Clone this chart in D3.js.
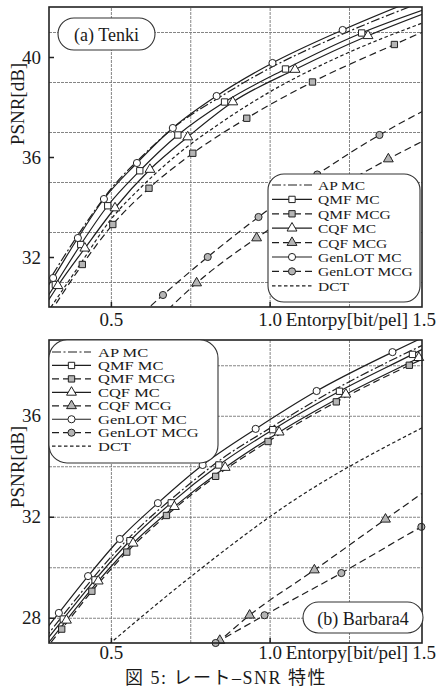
<!DOCTYPE html>
<html>
<head>
<meta charset="utf-8">
<script src="https://d3js.org/d3.v7.min.js"></script>
<style>
  body { margin: 0; background: #fff; }
  text { font-family: "Liberation Serif", "Noto Sans CJK JP", serif; fill: #1a1a1a; }
</style>
</head>
<body>
<script>
// ---- data ----
var seriesNames = ["AP MC", "QMF MC", "QMF MCG", "CQF MC", "CQF MCG", "GenLOT MC", "GenLOT MCG", "DCT"];
var xTickValues = [0.5, 1.0, 1.5];
var tenkiYTicks = [32, 36, 40];
var barbYTicks = [28, 32, 36];

// (a) Tenki : [entropy bit/pel, PSNR dB]
var tenkiAPMC      = [[0.29,30.75],[0.4,32.95],[0.5,34.72],[0.6,36.05],[0.7,37.2],[0.85,38.45],[1.0,39.55],[1.2,40.75],[1.5,42.3]];
var tenkiQMFMC     = [[0.29,30.2],[0.325,30.9],[0.405,32.5],[0.49,34.05],[0.591,35.45],[0.711,36.88],[0.858,38.2],[1.05,39.52],[1.29,40.96],[1.5,41.95]];
var tenkiQMFMCG    = [[0.29,29.4],[0.41,31.7],[0.506,33.3],[0.62,34.75],[0.758,36.15],[0.928,37.55],[1.135,39.0],[1.393,40.5],[1.5,41.1]];
var tenkiCQFMC     = [[0.29,30.0],[0.333,30.85],[0.418,32.35],[0.513,33.96],[0.623,35.5],[0.742,36.8],[0.884,38.2],[1.08,39.5],[1.31,40.85],[1.5,41.8]];
var tenkiCQFMCG    = [[0.68,29.9],[0.77,30.96],[0.959,32.76],[1.17,34.45],[1.374,35.92],[1.5,36.75]];
var tenkiGenLOTMC  = [[0.29,30.6],[0.318,31.16],[0.396,32.76],[0.478,34.32],[0.582,35.76],[0.695,37.16],[0.833,38.44],[1.009,39.76],[1.23,41.08],[1.5,42.5]];
var tenkiGenLOTMCG = [[0.6,29.75],[0.664,30.48],[0.805,32.0],[0.965,33.6],[1.15,35.3],[1.346,36.88],[1.5,37.95]];
var tenkiDCT       = [[0.29,29.6],[0.4,31.65],[0.5,33.5],[0.6,34.85],[0.7,36.0],[0.85,37.4],[1.0,38.6],[1.2,39.9],[1.5,41.45]];

// (b) Barbara4
var barbAPMC      = [[0.29,27.15],[0.4,28.9],[0.5,30.4],[0.6,31.7],[0.7,32.8],[0.85,34.3],[1.0,35.5],[1.2,37.0],[1.4,38.3],[1.5,38.9]];
var barbQMFMC     = [[0.29,27.0],[0.35,27.95],[0.45,29.5],[0.56,31.05],[0.69,32.55],[0.84,34.05],[1.01,35.45],[1.22,36.97],[1.45,38.43],[1.5,38.75]];
var barbQMFMCG    = [[0.29,26.7],[0.345,27.55],[0.44,29.05],[0.55,30.6],[0.675,32.05],[0.83,33.6],[0.995,34.98],[1.21,36.55],[1.44,38.0],[1.5,38.35]];
var barbCQFMC     = [[0.29,26.8],[0.36,27.9],[0.46,29.45],[0.57,30.95],[0.7,32.4],[0.86,33.95],[1.03,35.35],[1.24,36.85],[1.47,38.3],[1.5,38.5]];
var barbCQFMCG    = [[0.75,26.2],[0.843,27.1],[0.937,28.1],[1.141,29.89],[1.365,31.9],[1.5,33.1]];
var barbGenLOTMC  = [[0.29,27.45],[0.336,28.19],[0.428,29.65],[0.528,31.12],[0.648,32.54],[0.789,34.05],[0.956,35.48],[1.148,36.98],[1.387,38.52],[1.5,39.2]];
var barbGenLOTMCG = [[0.83,27.0],[0.984,28.1],[1.226,29.77],[1.478,31.6],[1.55,32.1]];
var barbDCT       = [[0.48,26.8],[0.739,29.5],[1.063,32.54],[1.5,35.65]];

// line / marker style per series
var styles = {
  "AP MC":      {dash: "9,2.5,2,2.5", marker: null},
  "QMF MC":     {dash: null, marker: d3.symbolSquare, fill: "#fff", size: 40},
  "QMF MCG":    {dash: "7,4", marker: d3.symbolSquare, fill: "#b5b5b5", size: 40},
  "CQF MC":     {dash: null, marker: d3.symbolTriangle, fill: "#fff", size: 42},
  "CQF MCG":    {dash: "7,4", marker: d3.symbolTriangle, fill: "#b5b5b5", size: 42},
  "GenLOT MC":  {dash: null, marker: d3.symbolCircle, fill: "#fff", size: 40},
  "GenLOT MCG": {dash: "7,4", marker: d3.symbolCircle, fill: "#b5b5b5", size: 40},
  "DCT":        {dash: "3.5,2.5", marker: null}
};

var W = 437, H = 691;
var svg = d3.select("body").append("svg")
    .attr("width", W)
    .attr("height", H);

function drawPanel(p) {
  var x = d3.scaleLinear().domain([0.305, 1.48]).range([p.left, p.right]);
  var y = d3.scaleLinear().domain(p.yDomain).range([p.bottom, p.top]);
  var g = svg.append("g");

  // clip to plot area
  g.append("clipPath").attr("id", p.id + "clip")
    .append("rect")
      .attr("x", p.left).attr("y", p.top)
      .attr("width", p.right - p.left).attr("height", p.bottom - p.top);

  // grid
  g.append("g")
    .attr("transform", "translate(0," + p.bottom + ")")
    .call(d3.axisBottom(x).tickValues([0.5, 0.75, 1.0, 1.25]).tickSize(-(p.bottom - p.top)).tickFormat(""))
    .call(function(s) { s.select(".domain").remove(); });
  g.append("g")
    .attr("transform", "translate(" + p.left + ",0)")
    .call(d3.axisLeft(y).tickValues(d3.range(p.yDomain[0] + 1, p.yDomain[1], 2)).tickSize(-(p.right - p.left)).tickFormat(""))
    .call(function(s) { s.select(".domain").remove(); });
  g.selectAll(".tick line").attr("stroke", "#777").attr("stroke-width", 0.9).attr("stroke-dasharray", "3,1");

  // y tick labels
  var ya = g.append("g")
    .attr("transform", "translate(" + p.left + ",0)")
    .call(d3.axisLeft(y).tickValues(p.yTicks).tickSizeInner(-5).tickSizeOuter(0).tickPadding(8).tickFormat(d3.format("d")));
  ya.select(".domain").remove();
  ya.selectAll(".tick line").attr("stroke", "#222").attr("stroke-width", 1.5);
  ya.selectAll("text").style("font-family", "Liberation Serif").style("font-size", "19px").attr("fill", "#1a1a1a");

  // x tick labels (0.5, 1.0 inside the domain)
  var xa = g.append("g")
    .attr("transform", "translate(0," + p.bottom + ")")
    .call(d3.axisBottom(x).tickValues(xTickValues.slice(0, 2)).tickSizeInner(-5).tickSizeOuter(0).tickPadding(0).tickFormat(d3.format(".1f")));
  xa.select(".domain").remove();
  xa.selectAll(".tick line").attr("stroke", "#222").attr("stroke-width", 1.5);
  xa.selectAll("text").attr("y", p.xLabelY - p.bottom).attr("dy", 0)
    .style("font-family", "Liberation Serif").style("font-size", "19px").attr("fill", "#1a1a1a");
  g.append("text")
    .attr("x", x(1.0) + 16).attr("y", p.xLabelY)
    .style("font-size", "19px")
    .text("Entorpy[bit/pel]");
  g.append("text")
    .attr("x", W - 1).attr("y", p.xLabelY)
    .attr("text-anchor", "end")
    .style("font-size", "19px")
    .text(d3.format(".1f")(xTickValues[2]));

  // y axis title
  g.append("text")
    .attr("transform", "translate(20," + p.yTitleY + ") rotate(-90)")
    .attr("text-anchor", "middle")
    .attr("dominant-baseline", "middle")
    .style("font-size", "19px")
    .text("PSNR[dB]");

  // curves
  var line = d3.line()
    .x(function(d) { return x(d[0]); })
    .y(function(d) { return y(d[1]); })
    .curve(d3.curveMonotoneX);
  var curves = g.append("g").attr("clip-path", "url(#" + p.id + "clip)");
  var marks = g.append("g");
  seriesNames.forEach(function(name) {
    var st = styles[name], data = p.series[name];
    curves.append("path")
      .datum(data)
      .attr("d", line)
      .attr("fill", "none")
      .attr("stroke", "#1e1e1e")
      .attr("stroke-width", 1.2)
      .attr("stroke-dasharray", st.dash);
    if (st.marker) {
      var inside = data.filter(function(d) {
        return d[0] >= 0.305 && d[0] <= 1.48 && d[1] >= p.yDomain[0] && d[1] <= p.yDomain[1];
      });
      marks.selectAll(null)
        .data(inside)
        .enter()
        .append("path")
          .attr("d", d3.symbol().type(st.marker).size(st.size))
          .attr("transform", function(d) { return "translate(" + x(d[0]) + "," + y(d[1]) + ")"; })
          .attr("fill", st.fill)
          .attr("stroke", "#222")
          .attr("stroke-width", 1);
    }
  });

  // frame
  g.append("rect")
    .attr("x", p.left).attr("y", p.top)
    .attr("width", p.right - p.left).attr("height", p.bottom - p.top)
    .attr("fill", "none").attr("stroke", "#222").attr("stroke-width", 1.6);

  // legend (text is narrow-set in the scan, so stretch it sideways)
  var L = p.legend;
  g.append("rect")
    .attr("x", L.x).attr("y", L.y).attr("width", L.w).attr("height", L.h)
    .attr("rx", L.rx).attr("ry", L.rx)
    .attr("fill", "#fff").attr("stroke", "#333").attr("stroke-width", 1.1);
  seriesNames.forEach(function(name, i) {
    var st = styles[name], ry = L.row0 + i * L.step;
    g.append("line")
      .attr("x1", L.x0).attr("x2", L.x1).attr("y1", ry).attr("y2", ry)
      .attr("stroke", "#1e1e1e").attr("stroke-width", 1.2)
      .attr("stroke-dasharray", st.dash);
    if (st.marker) {
      g.append("path")
        .attr("d", d3.symbol().type(st.marker).size(st.size))
        .attr("transform", "translate(" + ((L.x0 + L.x1) / 2) + "," + ry + ")")
        .attr("fill", st.fill).attr("stroke", "#222").attr("stroke-width", 1);
    }
    g.append("text")
      .attr("transform", "translate(" + L.tx + "," + (ry + 0.5) + ") scale(" + L.sx + ",1)")
      .attr("dominant-baseline", "central")
      .style("font-size", L.font + "px")
      .text(name);
  });

  // panel label
  var B = p.label;
  g.append("rect")
    .attr("x", B.x).attr("y", B.y).attr("width", B.w).attr("height", B.h)
    .attr("rx", B.h / 2).attr("ry", B.h / 2)
    .attr("fill", "#fff").attr("stroke", "#333").attr("stroke-width", 1.1);
  g.append("text")
    .attr("x", B.x + B.w / 2).attr("y", B.y + B.h / 2 + 1)
    .attr("text-anchor", "middle")
    .attr("dominant-baseline", "central")
    .style("font-size", "18px")
    .text(B.text);
}

drawPanel({
  id: "tenki", left: 49, right: 422, top: 7, bottom: 307,
  yDomain: [30, 42], yTicks: tenkiYTicks, xLabelY: 326, yTitleY: 104,
  series: {
    "AP MC": tenkiAPMC, "QMF MC": tenkiQMFMC, "QMF MCG": tenkiQMFMCG,
    "CQF MC": tenkiCQFMC, "CQF MCG": tenkiCQFMCG, "GenLOT MC": tenkiGenLOTMC,
    "GenLOT MCG": tenkiGenLOTMCG, "DCT": tenkiDCT
  },
  legend: {x: 268, y: 174, w: 152, h: 128, rx: 16, x0: 272, x1: 312, tx: 318, row0: 185, step: 14.4, font: 12.4, sx: 1.25},
  label: {x: 58, y: 18, w: 97, h: 32, text: "(a) Tenki"}
});

drawPanel({
  id: "barb", left: 49, right: 422, top: 340, bottom: 643,
  yDomain: [27, 39], yTicks: barbYTicks, xLabelY: 659, yTitleY: 467,
  series: {
    "AP MC": barbAPMC, "QMF MC": barbQMFMC, "QMF MCG": barbQMFMCG,
    "CQF MC": barbCQFMC, "CQF MCG": barbCQFMCG, "GenLOT MC": barbGenLOTMC,
    "GenLOT MCG": barbGenLOTMCG, "DCT": barbDCT
  },
  legend: {x: 49, y: 340, w: 169, h: 123, rx: 18, x0: 52, x1: 91, tx: 98, row0: 352, step: 13.45, font: 11.6, sx: 1.42},
  label: {x: 303, y: 602, w: 120, h: 31, text: "(b) Barbara4"}
});

// caption
svg.append("text")
  .attr("x", 226).attr("y", 684)
  .attr("text-anchor", "middle")
  .style("font-size", "18px")
  .style("letter-spacing", "1.5px")
  .text("図 5: レート–SNR 特性");
</script>
</body>
</html>
